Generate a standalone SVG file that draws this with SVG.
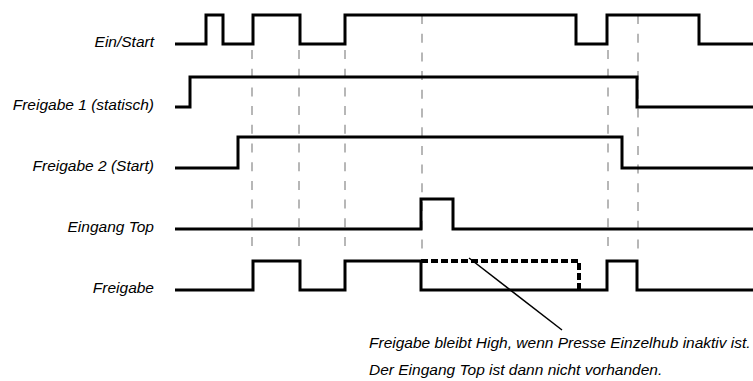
<svg xmlns="http://www.w3.org/2000/svg" width="753" height="381" viewBox="0 0 753 381">
<style>
.lbl{font-family:"Liberation Sans",Arial,sans-serif;font-style:italic;font-size:15.5px;fill:#000}
.sig{fill:none;stroke:#000;stroke-width:3;stroke-linejoin:miter;stroke-linecap:butt}
.grid{fill:none;stroke:#a6a6a6;stroke-width:1.6;stroke-dasharray:9 9.7}
.hold{fill:none;stroke:#000;stroke-width:4;stroke-dasharray:7 3}
</style>
<rect width="753" height="381" fill="#fff"/>
<g id="grid">
<line class="grid" x1="252" y1="50" x2="252" y2="253"/>
<line class="grid" x1="299" y1="50" x2="299" y2="253"/>
<line class="grid" x1="345" y1="50" x2="345" y2="253"/>
<line class="grid" x1="422" y1="15" x2="422" y2="253"/>
<line class="grid" x1="608" y1="50" x2="608" y2="253"/>
<line class="grid" x1="638" y1="15" x2="638" y2="253"/>
</g>
<g id="ein-start">
<text class="lbl" x="154" y="47" text-anchor="end">Ein/Start</text>
<path class="sig" d="M175,44 H206 V15 H223 V44 H253 V15 H300 V44 H345 V15 H576 V44 H607 V15 H699 V44 H753"/>
</g>
<g id="freigabe1">
<text class="lbl" x="154" y="109.5" text-anchor="end">Freigabe 1 (statisch)</text>
<path class="sig" d="M175,107 H190 V77 H637 V107 H753"/>
</g>
<g id="freigabe2">
<text class="lbl" x="154" y="170.5" text-anchor="end">Freigabe 2 (Start)</text>
<path class="sig" d="M175,168 H238 V137 H622 V168 H753"/>
</g>
<g id="eingang-top">
<text class="lbl" x="154" y="231.5" text-anchor="end">Eingang Top</text>
<path class="sig" d="M175,229 H421 V199 H453 V229 H753"/>
</g>
<g id="freigabe">
<text class="lbl" x="154" y="292.5" text-anchor="end">Freigabe</text>
<path class="sig" d="M175,290 H253 V261 H300 V290 H345 V261 H421 V290 H607 V261 H637 V290 H753"/>
<path class="hold" d="M421,261 H579 V290"/>
</g>
<g id="note">
<text class="lbl" x="369" y="348">Freigabe bleibt High, wenn Presse Einzelhub inaktiv ist.</text>
<text class="lbl" x="369" y="375">Der Eingang Top ist dann nicht vorhanden.</text>
</g>
<g id="connectors">
<line x1="469" y1="258" x2="562" y2="330" stroke="#000" stroke-width="1.5"/>
</g>
</svg>
